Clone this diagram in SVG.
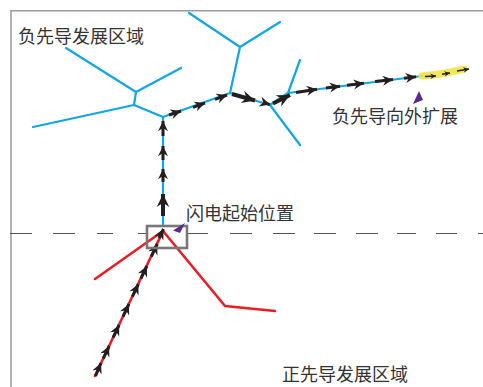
<svg xmlns="http://www.w3.org/2000/svg" width="483" height="387" viewBox="0 0 483 387">
  <style>
    .frame { fill: none; stroke: #9a9a9a; stroke-width: 1.5; }
    .ground { fill: none; stroke: #555; stroke-width: 1.2; }
    .neg { fill: none; stroke: #12a6e2; stroke-width: 2.2; stroke-linecap: round; stroke-linejoin: round; }
    .pos { fill: none; stroke: #ea1c24; stroke-width: 2.6; stroke-linecap: round; stroke-linejoin: round; }
    .step { fill: none; stroke: #231f20; stroke-width: 3; marker-end: url(#ah); }
    .stepL { fill: none; stroke: #231f20; stroke-width: 4; marker-end: url(#ahL); }
    .stepS { fill: none; stroke: #231f20; stroke-width: 1.4; marker-end: url(#ahS); }
    .glow { fill: none; stroke: #f1e645; stroke-width: 7; stroke-linecap: round; opacity: 0.9; }
    .label { font-family: "Noto Sans CJK SC", "Noto Sans", sans-serif; font-size: 18px; fill: #333; }
    .pointer { fill: #5b2a8c; }
    .origin { fill: none; stroke: #777; stroke-width: 2.6; }
  </style>
  <defs>
    <marker id="ah" viewBox="-10 -5 11 10" markerWidth="12" markerHeight="11" refX="0" refY="0" markerUnits="userSpaceOnUse" orient="auto">
      <path d="M0,0 L-9.5,-4.6 L-6.5,0 L-9.5,4.6 Z" fill="#231f20"/>
    </marker>
    <marker id="ahL" viewBox="-10 -5 11 10" markerWidth="15" markerHeight="14" refX="0" refY="0" markerUnits="userSpaceOnUse" orient="auto">
      <path d="M0,0 L-9.5,-4.6 L-6.5,0 L-9.5,4.6 Z" fill="#231f20"/>
    </marker>
    <marker id="ahS" viewBox="-10 -5 11 10" markerWidth="7" markerHeight="6" refX="0" refY="0" markerUnits="userSpaceOnUse" orient="auto">
      <path d="M0,0 L-9.5,-4.6 L-6.5,0 L-9.5,4.6 Z" fill="#231f20"/>
    </marker>
  </defs>

  <rect width="483" height="387" fill="#fff"/>

  <!-- outer frame (left and top edges) -->
  <g id="frame">
    <path class="frame" d="M11,387 V10.7 H483"/>
  </g>

  <!-- ground level -->
  <g id="ground-line">
    <path class="ground" d="M10,233.5 H32 M53,233.5 H75 M97,233.5 H113 M138,233.5 H147 M187,233.5 H208 M230,233.5 H252 M273,233.5 H295 M314,233.5 H336 M356,233.5 H378 M397,233.5 H416 M436,233.5 H457 M478,233.5 H483"/>
  </g>

  <!-- negative leader branches -->
  <g id="negative-leader">
    <path class="neg" d="M163,226 V117 L134,105 L33,127"/>
    <path class="neg" d="M134,105 L136,92 L66,48 M136,92 L181,68"/>
    <path class="neg" d="M163,117 L230,93 L240,47 L189,13 M240,47 L280,22"/>
    <path class="neg" d="M230,93 L270,105 L300,145 M270,105 L288,93 L300,60 M288,93 L422,76"/>
  </g>

  <!-- positive leader branches -->
  <g id="positive-leader">
    <path class="pos" d="M163,231 L95,376"/>
    <path class="pos" d="M163,231 L95,279"/>
    <path class="pos" d="M163,231 L225,306 L275,311"/>
  </g>

  <!-- outward extension highlight -->
  <g id="extension">
    <path class="glow" d="M422,76 Q445,74 464,69"/>
  </g>

  <!-- stepped propagation arrows -->
  <g id="connectors">
    <!-- upward along the positive channel -->
    <path class="step" d="M95.5,376 L101,363"/>
    <path class="step" d="M103.2,358.7 L109.2,346"/>
    <path class="step" d="M113.1,337.7 L119.1,325"/>
    <path class="step" d="M123,316.7 L129,304"/>
    <path class="step" d="M132.4,296.7 L138.4,284"/>
    <path class="step" d="M140.9,278.7 L146.9,266"/>
    <path class="step" d="M151.3,256.7 L157.3,244"/>
    <path class="step" d="M159,238 L163.5,229"/>
    <!-- main vertical channel -->
    <path class="stepL" d="M163,216 V194"/>
    <path class="step" d="M163,182 V169"/>
    <path class="step" d="M163,160 V146"/>
    <path class="step" d="M163,136 V121"/>
    <!-- toward first fork -->
    <path class="step" d="M169,115 L181,111"/>
    <path class="step" d="M193,107.3 L205,103"/>
    <path class="step" d="M215,99.3 L227,95"/>
    <path class="stepL" d="M232,94 L255,100.5"/>
    <path class="step" d="M263,102.5 L270,104.6"/>
    <path class="stepL" d="M273,103.5 L290,95"/>
    <!-- outward along the main branch -->
    <path class="step" d="M296,92.5 L317,89.2"/>
    <path class="step" d="M326,88 L340,86.3"/>
    <path class="step" d="M347,85.3 L364,83.3"/>
    <path class="step" d="M375,81.5 L393,79.5"/>
    <path class="step" d="M404,78.3 L416,76.8"/>
    <path class="stepS" d="M425,76.5 L436,76"/>
    <path class="stepS" d="M442,74.2 L450,73"/>
    <path class="stepS" d="M457,71 L469,69"/>
  </g>

  <!-- lightning origin marker -->
  <g id="origin-box">
    <rect class="origin" x="147" y="226" width="40" height="22"/>
    <path class="pointer" d="M185,223 L173,230.5 L180,233 Z"/>
  </g>

  <g id="extension-pointer">
    <path class="pointer" d="M419,91 L413,104 L423,100 Z"/>
  </g>

  <!-- labels -->
  <g id="label-negative-region">
    <text class="label" x="18" y="42.5">负先导发展区域</text>
  </g>
  <g id="label-extension">
    <text class="label" x="332" y="123">负先导向外扩展</text>
  </g>
  <g id="label-origin">
    <text class="label" x="186" y="219.5">闪电起始位置</text>
  </g>
  <g id="label-positive-region">
    <text class="label" x="282" y="381">正先导发展区域</text>
  </g>
</svg>
